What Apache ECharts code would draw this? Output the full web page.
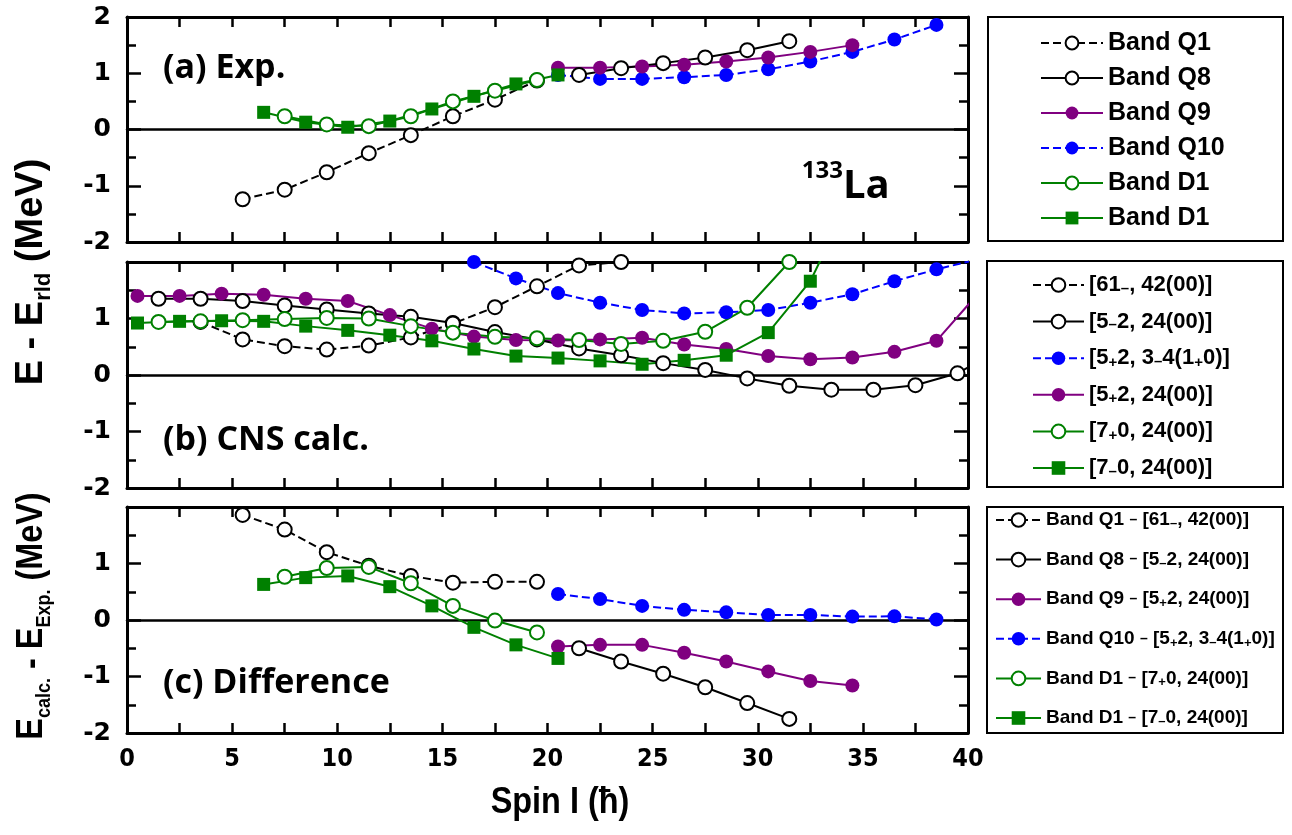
<!DOCTYPE html>
<html>
<head>
<meta charset="utf-8">
<script src="https://cdn.jsdelivr.net/npm/echarts@6/dist/echarts.min.js"></script>
<style>
html, body { margin: 0; padding: 0; background: #fff; }
#main { width: 1292px; height: 835px; }
</style>
</head>
<body>
<div id="main"></div>
<script>
// ---- (a) experiment ----
var aQ1_I = [5.5, 7.5, 9.5, 11.5, 13.5, 15.5, 17.5, 19.5];
var aQ1_E = [-1.24, -1.07, -0.76, -0.42, -0.10, 0.235, 0.53, 0.87];
var aQ8_I = [21.5, 23.5, 25.5, 27.5, 29.5, 31.5];
var aQ8_E = [0.97, 1.09, 1.18, 1.28, 1.41, 1.57];
var aQ9_I = [20.5, 22.5, 24.5, 26.5, 28.5, 30.5, 32.5, 34.5];
var aQ9_E = [1.10, 1.10, 1.12, 1.15, 1.21, 1.28, 1.38, 1.50];
var aQ10_I = [20.5, 22.5, 24.5, 26.5, 28.5, 30.5, 32.5, 34.5, 36.5, 38.5];
var aQ10_E = [0.97, 0.90, 0.90, 0.93, 0.97, 1.07, 1.21, 1.38, 1.60, 1.86];
var aD1o_I = [7.5, 9.5, 11.5, 13.5, 15.5, 17.5, 19.5];
var aD1o_E = [0.235, 0.09, 0.06, 0.235, 0.50, 0.69, 0.88];
var aD1s_I = [6.5, 8.5, 10.5, 12.5, 14.5, 16.5, 18.5, 20.5];
var aD1s_E = [0.305, 0.13, 0.04, 0.15, 0.365, 0.59, 0.81, 0.97];

// ---- (b) CNS calc ----
var bQ1_I = [3.5, 5.5, 7.5, 9.5, 11.5, 13.5, 15.5, 17.5, 19.5, 21.5, 23.5];
var bQ1_E = [0.94, 0.63, 0.51, 0.45, 0.52, 0.665, 0.91, 1.20, 1.57, 1.94, 2.0];
var bQ8_I = [1.5, 3.5, 5.5, 7.5, 9.5, 11.5, 13.5, 15.5, 17.5, 19.5, 21.5, 23.5, 25.5, 27.5, 29.5, 31.5, 33.5, 35.5, 37.5, 39.5, 41.5];
var bQ8_E = [1.35, 1.35, 1.31, 1.23, 1.16, 1.09, 1.03, 0.92, 0.76, 0.63, 0.47, 0.35, 0.21, 0.09, -0.06, -0.19, -0.26, -0.26, -0.18, 0.03, 0.45];
var bQ9_I = [0.5, 2.5, 4.5, 6.5, 8.5, 10.5, 12.5, 14.5, 16.5, 18.5, 20.5, 22.5, 24.5, 26.5, 28.5, 30.5, 32.5, 34.5, 36.5, 38.5, 40.5];
var bQ9_E = [1.40, 1.40, 1.44, 1.42, 1.35, 1.31, 1.06, 0.82, 0.68, 0.62, 0.61, 0.63, 0.66, 0.54, 0.46, 0.335, 0.28, 0.31, 0.41, 0.605, 1.45];
var bQ10_I = [16.5, 18.5, 20.5, 22.5, 24.5, 26.5, 28.5, 30.5, 32.5, 34.5, 36.5, 38.5, 40.5];
var bQ10_E = [2.0, 1.71, 1.45, 1.28, 1.15, 1.09, 1.11, 1.15, 1.28, 1.43, 1.66, 1.87, 2.05];
var bD1o_I = [1.5, 3.5, 5.5, 7.5, 9.5, 11.5, 13.5, 15.5, 17.5, 19.5, 21.5, 23.5, 25.5, 27.5, 29.5, 31.5];
var bD1o_E = [0.94, 0.95, 0.97, 0.99, 1.01, 1.00, 0.865, 0.75, 0.675, 0.65, 0.62, 0.55, 0.605, 0.765, 1.19, 2.0];
var bD1s_I = [0.5, 2.5, 4.5, 6.5, 8.5, 10.5, 12.5, 14.5, 16.5, 18.5, 20.5, 22.5, 24.5, 26.5, 28.5, 30.5, 32.5, 34.5];
var bD1s_E = [0.92, 0.95, 0.96, 0.95, 0.865, 0.79, 0.705, 0.605, 0.46, 0.335, 0.30, 0.25, 0.19, 0.26, 0.35, 0.75, 1.66, 3.2];

// ---- (c) difference ----
var cQ1_I = [5.5, 7.5, 9.5, 11.5, 13.5, 15.5, 17.5, 19.5];
var cQ1_E = [1.86, 1.60, 1.20, 0.96, 0.78, 0.66, 0.675, 0.675];
var cQ8_I = [21.5, 23.5, 25.5, 27.5, 29.5, 31.5];
var cQ8_E = [-0.50, -0.735, -0.95, -1.19, -1.47, -1.75];
var cQ9_I = [20.5, 22.5, 24.5, 26.5, 28.5, 30.5, 32.5, 34.5];
var cQ9_E = [-0.47, -0.44, -0.44, -0.58, -0.735, -0.91, -1.08, -1.16];
var cQ10_I = [20.5, 22.5, 24.5, 26.5, 28.5, 30.5, 32.5, 34.5, 36.5, 38.5];
var cQ10_E = [0.46, 0.37, 0.25, 0.18, 0.135, 0.09, 0.09, 0.06, 0.065, 0.01];
var cD1o_I = [7.5, 9.5, 11.5, 13.5, 15.5, 17.5, 19.5];
var cD1o_E = [0.765, 0.92, 0.94, 0.65, 0.25, -0.01, -0.22];
var cD1s_I = [6.5, 8.5, 10.5, 12.5, 14.5, 16.5, 18.5, 20.5];
var cD1s_E = [0.63, 0.75, 0.78, 0.59, 0.25, -0.13, -0.44, -0.68];

// legend texts ({m|..} = lower minus, {p|..} = lower plus)
var labelsA = ['Band Q1', 'Band Q8', 'Band Q9', 'Band Q10', 'Band D1', 'Band D1'];
var labelsB = ['[61{m|–}, 42(00)]', '[5{m|–}2, 24(00)]', '[5{p|+}2, 3{m|–}4(1{p|+}0)]', '[5{p|+}2, 24(00)]', '[7{p|+}0, 24(00)]', '[7{m|–}0, 24(00)]'];
var labelsC = ['Band Q1 {d|–} [61{m|–}, 42(00)]', 'Band Q8 {d|–} [5{m|–}2, 24(00)]', 'Band Q9 {d|–} [5{p|+}2, 24(00)]', 'Band Q10 {d|–} [5{p|+}2, 3{m|–}4(1{p|+}0)]', 'Band D1 {d|–} [7{p|+}0, 24(00)]', 'Band D1 {d|–} [7{m|–}0, 24(00)]'];
var xTicks = [0, 5, 10, 15, 20, 25, 30, 35, 40];

var BLACK = '#000', PURPLE = '#800080', BLUE = '#0000ff', GREEN = '#008000';
var looks = {
    Q1:  { color: BLACK,  type: 'dashed', open: true,  symbol: 'circle' },
    Q8:  { color: BLACK,  type: 'solid',  open: true,  symbol: 'circle' },
    Q9:  { color: PURPLE, type: 'solid',  open: false, symbol: 'circle' },
    Q10: { color: BLUE,   type: 'dashed', open: false, symbol: 'circle' },
    D1o: { color: GREEN,  type: 'solid',  open: true,  symbol: 'circle' },
    D1s: { color: GREEN,  type: 'solid',  open: false, symbol: 'rect' }
};

function pts(xs, ys) {
    var out = [];
    for (var i = 0; i < xs.length; i++) out.push([xs[i], ys[i]]);
    return out;
}

function line(name, g, key, xs, ys) {
    var lk = looks[key];
    return {
        name: name,
        type: 'line',
        xAxisIndex: g * 3,
        yAxisIndex: g * 2,
        data: pts(xs, ys),
        symbol: lk.symbol,
        symbolSize: lk.symbol === 'rect' ? 13 : 14,
        showAllSymbol: true,
        clip: true,
        lineStyle: { color: lk.color, width: 2, type: lk.type },
        itemStyle: lk.open
            ? { color: '#fff', borderColor: lk.color, borderWidth: 2 }
            : { color: lk.color, borderWidth: 0 },
        emphasis: { disabled: true },
        z: 3
    };
}

var tickStyle = { color: '#000', width: 2.5 };
var xAxes = [], yAxes = [], grids = [];
var tops = [17, 262, 507], heights = [225, 226, 226];

for (var g = 0; g < 3; g++) {
    grids.push({ left: 127, top: tops[g], width: 841, height: heights[g] });
    ['bottom', 'top'].forEach(function (pos) {
        xAxes.push({
            gridIndex: g, type: 'value', min: 0, max: 40, interval: 5, position: pos,
            axisLine: { onZero: false, lineStyle: { color: '#000', width: 3 } },
            axisTick: { inside: true, length: 10, lineStyle: tickStyle },
            minorTick: { show: true, splitNumber: 2, length: 10, lineStyle: tickStyle },
            splitLine: { show: false },
            axisLabel: {
                show: g === 2 && pos === 'bottom',
                margin: 14,
                color: '#000',
                fontFamily: '"Liberation Sans Narrow", "DejaVu Sans Condensed", "Liberation Sans"',
                fontWeight: 'bold',
                fontSize: 25,
                formatter: function (v) { return xTicks.indexOf(v) >= 0 ? String(v) : ''; }
            }
        });
    });
    // zero line
    xAxes.push({
        gridIndex: g, type: 'value', min: 0, max: 40, position: 'bottom',
        axisLine: { onZero: true, lineStyle: { color: '#000', width: 2.5 } },
        axisTick: { show: false }, axisLabel: { show: false }, splitLine: { show: false }
    });
    (function (gi) {
        ['left', 'right'].forEach(function (pos) {
            yAxes.push({
                gridIndex: gi, type: 'value', min: -2, max: 2, interval: 1, position: pos,
                axisLine: { onZero: false, lineStyle: { color: '#000', width: 3 } },
                axisTick: { inside: true, length: 14, lineStyle: tickStyle },
                minorTick: { show: true, splitNumber: 2, length: 9, lineStyle: tickStyle },
                splitLine: { show: false },
                axisLabel: {
                    show: pos === 'left',
                    margin: 16,
                    color: '#000',
                    fontFamily: '"DejaVu Sans"',
                    fontWeight: 'bold',
                    fontSize: 25,
                    formatter: function (v) {
                        if (gi > 0 && v === 2) return '';
                        return String(v);
                    }
                }
            });
        });
    })(g);
}

var series = [
    line('aQ10', 0, 'Q10', aQ10_I, aQ10_E),
    line('aQ9', 0, 'Q9', aQ9_I, aQ9_E),
    line('aQ8', 0, 'Q8', aQ8_I, aQ8_E),
    line('aQ1', 0, 'Q1', aQ1_I, aQ1_E),
    line('aD1o', 0, 'D1o', aD1o_I, aD1o_E),
    line('aD1s', 0, 'D1s', aD1s_I, aD1s_E),

    line('bQ10', 1, 'Q10', bQ10_I, bQ10_E),
    line('bQ9', 1, 'Q9', bQ9_I, bQ9_E),
    line('bQ8', 1, 'Q8', bQ8_I, bQ8_E),
    line('bQ1', 1, 'Q1', bQ1_I, bQ1_E),
    line('bD1o', 1, 'D1o', bD1o_I, bD1o_E),
    line('bD1s', 1, 'D1s', bD1s_I, bD1s_E),

    line('cQ10', 2, 'Q10', cQ10_I, cQ10_E),
    line('cQ9', 2, 'Q9', cQ9_I, cQ9_E),
    line('cQ8', 2, 'Q8', cQ8_I, cQ8_E),
    line('cQ1', 2, 'Q1', cQ1_I, cQ1_E),
    line('cD1o', 2, 'D1o', cD1o_I, cD1o_E),
    line('cD1s', 2, 'D1s', cD1s_I, cD1s_E)
];

function legendBox(names, labels, left, top, iw, ih, gap, size, lh, subSize) {
    var ff = '"Liberation Sans", Arial';
    return {
        data: names,
        orient: 'vertical',
        left: left, top: top,
        padding: 0,
        itemWidth: iw, itemHeight: ih, itemGap: gap,
        selectedMode: false,
        formatter: function (n) { return labels[names.indexOf(n)]; },
        textStyle: {
            color: '#000',
            fontFamily: ff,
            fontWeight: 'bold',
            fontSize: size,
            lineHeight: lh,
            rich: {
                m: { fontFamily: ff, fontWeight: 'bold', fontSize: subSize, lineHeight: lh, verticalAlign: 'bottom', color: '#000', padding: [0, 0, 2, 0] },
                p: { fontFamily: ff, fontWeight: 'bold', fontSize: subSize, lineHeight: lh, verticalAlign: 'bottom', color: '#000', padding: [0, 0, 1, 0] },
                d: { fontFamily: ff, fontWeight: 'bold', fontSize: Math.round(size * 0.75), lineHeight: lh, color: '#000' }
            }
        }
    };
}

var legends = [
    legendBox(['aQ1', 'aQ8', 'aQ9', 'aQ10', 'aD1o', 'aD1s'], labelsA, 1040, 29, 62, 16, 7, 25, 28, 14),
    legendBox(['bQ1', 'bQ8', 'bQ10', 'bQ9', 'bD1o', 'bD1s'], labelsB, 1032, 272, 51, 17, 10.6, 22, 26, 15),
    legendBox(['cQ1', 'cQ8', 'cQ9', 'cQ10', 'cD1o', 'cD1s'], labelsC, 995, 508, 45, 17, 15.6, 19, 24, 13)
];

var boxStyle = { fill: 'none', stroke: '#000', lineWidth: 2 };
var panelFont = 'bold 34px "Open Sans"';
function titleRich(big, small, lh) {
    return {
        b: { fontFamily: '"Liberation Sans"', fontWeight: 'bold', fontSize: big, color: '#000', lineHeight: lh },
        s: { fontFamily: '"Liberation Sans"', fontWeight: 'bold', fontSize: small, color: '#000', verticalAlign: 'bottom', lineHeight: lh }
    };
}

var graphics = [
    { type: 'rect', shape: { x: 988, y: 17, width: 295, height: 224 }, style: boxStyle },
    { type: 'rect', shape: { x: 987, y: 261, width: 296, height: 226 }, style: boxStyle },
    { type: 'rect', shape: { x: 987, y: 507, width: 296, height: 226 }, style: boxStyle },
    { type: 'text', x: 163, y: 68, style: { text: '(a) Exp.', font: panelFont, fill: '#000', verticalAlign: 'middle', textVerticalAlign: 'middle' } },
    { type: 'text', x: 163, y: 440, style: { text: '(b) CNS calc.', font: panelFont, fill: '#000', verticalAlign: 'middle', textVerticalAlign: 'middle' } },
    { type: 'text', x: 163, y: 683, style: { text: '(c) Difference', font: panelFont, fill: '#000', verticalAlign: 'middle', textVerticalAlign: 'middle' } },
    { type: 'text', x: 843, y: 171, style: { text: '133', font: 'bold 24px "Open Sans"', fill: '#000', align: 'right', textAlign: 'right', verticalAlign: 'middle', textVerticalAlign: 'middle' } },
    { type: 'text', x: 843, y: 187, style: { text: 'La', font: 'bold 40px "Open Sans"', fill: '#000', verticalAlign: 'middle', textVerticalAlign: 'middle' } },
    {
        type: 'text', x: 32, y: 272, rotation: Math.PI / 2,
        style: { text: '{b|E - E}{s|rld}{b| (MeV)}', rich: titleRich(38, 22, 46), align: 'center', textAlign: 'center', verticalAlign: 'middle', textVerticalAlign: 'middle' }
    },
    {
        type: 'text', x: 32, y: 616, rotation: Math.PI / 2, scaleX: 0.9,
        style: { text: '{b|E}{s|calc.}{b| - E}{s|Exp.}{b| (MeV)}', rich: titleRich(36, 20, 44), align: 'center', textAlign: 'center', verticalAlign: 'middle', textVerticalAlign: 'middle' }
    },
    {
        type: 'text', x: 560, y: 803, scaleX: 0.9,
        style: { text: 'Spin I (ħ)', font: 'bold 36px "Liberation Sans"', fill: '#000', align: 'center', textAlign: 'center', verticalAlign: 'middle', textVerticalAlign: 'middle' }
    }
];

var myChart = echarts.init(document.getElementById('main'), null, { renderer: 'canvas' });
myChart.setOption({
    backgroundColor: '#fff',
    animation: false,
    grid: grids,
    xAxis: xAxes,
    yAxis: yAxes,
    legend: legends,
    series: series,
    graphic: graphics
});
</script>
</body>
</html>
